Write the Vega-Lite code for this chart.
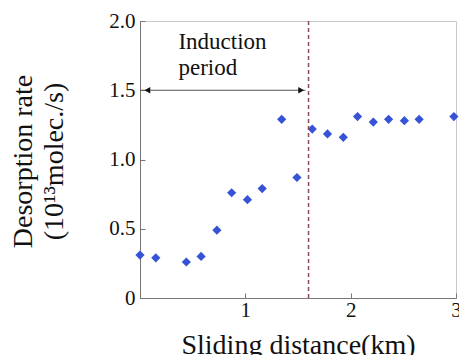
{
  "$schema": "https://vega.github.io/schema/vega-lite/v6.json",
  "width": 316,
  "height": 277,
  "autosize": "none",
  "padding": {"left": 140, "top": 21, "right": 3, "bottom": 57},
  "background": "white",
  "config": {
    "view": {"stroke": "#c8c8c8", "strokeWidth": 1},
    "font": "Liberation Serif"
  },
  "datasets": {
    "points": [
      {"distance": 0.0, "rate": 0.31},
      {"distance": 0.15, "rate": 0.29},
      {"distance": 0.44, "rate": 0.26},
      {"distance": 0.58, "rate": 0.30},
      {"distance": 0.73, "rate": 0.49},
      {"distance": 0.87, "rate": 0.76},
      {"distance": 1.02, "rate": 0.71},
      {"distance": 1.16, "rate": 0.79},
      {"distance": 1.345, "rate": 1.29},
      {"distance": 1.49, "rate": 0.87},
      {"distance": 1.635, "rate": 1.22},
      {"distance": 1.78, "rate": 1.185},
      {"distance": 1.93, "rate": 1.16},
      {"distance": 2.065, "rate": 1.31},
      {"distance": 2.215, "rate": 1.27},
      {"distance": 2.36, "rate": 1.29},
      {"distance": 2.51, "rate": 1.28},
      {"distance": 2.65, "rate": 1.29},
      {"distance": 2.98, "rate": 1.31}
    ],
    "divider": [{"distance": 1.6}],
    "arrow": [{"x1": 0.0, "x2": 1.57, "y": 1.5}],
    "heads": [
      {"x": 0.07, "y": 1.5, "shape": "triangle-left"},
      {"x": 1.53, "y": 1.5, "shape": "triangle-right"}
    ],
    "labels": [
      {"x": 0.365, "y": 1.80, "text": "Induction"},
      {"x": 0.365, "y": 1.607, "text": "period"}
    ]
  },
  "layer": [
    {
      "data": {"name": "points"},
      "mark": {"type": "point", "shape": "diamond", "filled": true, "size": 85, "color": "#3653d6", "opacity": 1},
      "encoding": {
        "x": {
          "field": "distance", "type": "quantitative",
          "scale": {"domain": [0, 3], "nice": false, "zero": false},
          "axis": {
            "title": "Sliding distance(km)",
            "values": [0, 1, 2, 3],
            "labelExpr": "datum.value == 0 ? '' : format(datum.value, 'd')",
            "labelFlush": false,
            "labelOverlap": false,
            "grid": false,
            "domainColor": "#777777",
            "tickColor": "#777777",
            "tickSize": -5,
            "labelFontSize": 21,
            "labelColor": "#111111",
            "labelPadding": 6,
            "labelFont": "Liberation Serif",
            "titleFont": "Liberation Serif",
            "titleFontSize": 28,
            "titleFontWeight": "normal",
            "titleColor": "#111111",
            "titleBaseline": "alphabetic",
            "titleY": 55
          }
        },
        "y": {
          "field": "rate", "type": "quantitative",
          "scale": {"domain": [0, 2], "nice": false},
          "axis": {
            "title": ["Desorption rate", "(10¹³molec./s)"],
            "values": [0, 0.5, 1, 1.5, 2],
            "labelExpr": "datum.value == 0 ? '0' : format(datum.value, '.1f')",
            "grid": false,
            "domainColor": "#777777",
            "tickColor": "#777777",
            "tickSize": -5,
            "labelFontSize": 21,
            "labelColor": "#111111",
            "labelPadding": 10,
            "labelFont": "Liberation Serif",
            "titleFont": "Liberation Serif",
            "titleFontSize": 28,
            "titleFontWeight": "normal",
            "titleColor": "#111111",
            "titleLineHeight": 31,
            "titleAngle": -90,
            "titleAlign": "center",
            "titleBaseline": "top",
            "titleX": -131,
            "titleY": 140
          }
        }
      }
    },
    {
      "data": {"name": "divider"},
      "mark": {"type": "rule", "color": "#8a4a5e", "strokeWidth": 1.5, "strokeDash": [4, 3]},
      "encoding": {
        "x": {"field": "distance", "type": "quantitative"}
      }
    },
    {
      "data": {"name": "arrow"},
      "mark": {"type": "rule", "color": "#555555", "strokeWidth": 1.2},
      "encoding": {
        "x": {"field": "x1", "type": "quantitative"},
        "x2": {"field": "x2"},
        "y": {"field": "y", "type": "quantitative"}
      }
    },
    {
      "data": {"name": "heads"},
      "mark": {"type": "point", "filled": true, "size": 45, "color": "#111111", "opacity": 1},
      "encoding": {
        "x": {"field": "x", "type": "quantitative"},
        "y": {"field": "y", "type": "quantitative"},
        "shape": {"field": "shape", "type": "nominal", "scale": null, "legend": null}
      }
    },
    {
      "data": {"name": "labels"},
      "mark": {"type": "text", "align": "left", "baseline": "alphabetic", "font": "Liberation Serif", "fontSize": 23, "color": "#111111"},
      "encoding": {
        "x": {"field": "x", "type": "quantitative"},
        "y": {"field": "y", "type": "quantitative"},
        "text": {"field": "text"}
      }
    }
  ]
}
